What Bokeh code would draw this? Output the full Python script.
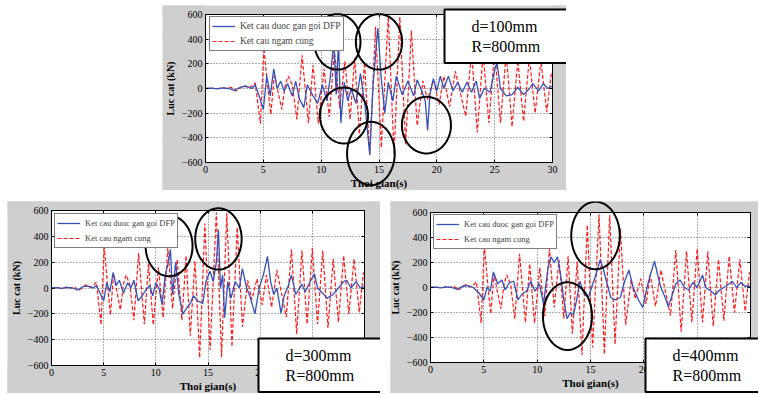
import numpy as np
from bokeh.plotting import figure
from bokeh.models import (Label, PolyAnnotation, Legend, LegendItem, Spacer,
                          FixedTicker, Range1d, LinearAxis)
from bokeh.layouts import row, column
from bokeh.embed import file_html
from bokeh.resources import INLINE

# ---------------- data ----------------
x_ticks = [0, 5, 10, 15, 20, 25, 30]
y_ticks = [-600, -400, -200, 0, 200, 400, 600]
x_min, x_max = 0, 30
y_min, y_max = -600, 600
label_dfp = "Ket cau duoc gan goi DFP"
label_fix = "Ket cau ngam cung"
x_title = "Thoi gian(s)"
y_title = "Luc cat (kN)"

# fixed-base structure (red dashed), same in all three panels
fix_t = [0, 0.5, 1.0, 1.4, 1.8, 2.2, 2.6, 3.0, 3.3, 3.7,
         4.0, 4.3, 4.75, 5.05, 5.35, 5.65, 5.95, 6.25, 6.6, 6.9,
         7.15, 7.5, 7.9, 8.35, 8.9, 9.3, 9.75, 10.25, 10.7, 11.15,
         11.6, 12.05, 12.5, 12.9, 13.3, 13.75, 14.2, 14.7, 15.2, 15.8,
         16.3, 16.8, 17.3, 17.8, 18.3, 18.8, 19.2, 19.7, 20.2, 20.6,
         21.1, 21.6, 22.5, 23.0, 23.5, 24.0, 24.5, 25.0, 25.5, 26.0,
         26.5, 27.0, 27.5, 28.0, 28.5, 29.0, 29.5, 29.9, 30.0]
fix_v = [0, 5, -5, 8, 0, 10, -20, 5, 25, 5,
         20, 45, -285, 330, 40, -210, 110, -20, -170, 30,
         100, 30, -250, 270, -280, 190, -285, 160, -230, 310,
         -160, 220, -250, 250, -370, 210, -540, 500, -480, 585,
         -535, 580, -455, 470, -300, 60, -90, 70, -130, 100,
         -150, 140, -225, 300, -355, 290, -280, 310, -280, 290,
         -310, 225, -265, 250, -200, 225, -190, 120, 100]

# DFP isolated structure, d = 100 mm
d100_t = [0, 0.5, 1.0, 1.5, 2.0, 2.5, 3.0, 3.5, 4.0, 4.3,
          4.6, 5.0, 5.3, 5.6, 5.9, 6.2, 6.5, 6.8, 7.1, 7.5,
          7.8, 8.1, 8.5, 8.8, 9.3, 9.7, 10.1, 10.5, 10.8, 11.1,
          11.3, 11.5, 11.7, 12.0, 12.3, 12.6, 13.0, 13.4, 13.8, 14.2,
          14.5, 14.9, 15.2, 15.5, 15.8, 16.2, 16.5, 17.0, 17.5, 18.0,
          18.3, 18.7, 19.0, 19.2, 19.4, 19.7, 20.0, 20.3, 20.6, 21.0,
          21.4, 21.8, 22.2, 22.6, 23.0, 23.4, 23.7, 24.1, 24.6, 25.0,
          25.2, 25.5, 26.0, 26.5, 27.0, 27.5, 28.0, 28.3, 28.8, 29.2,
          29.6, 30.0]
d100_v = [0, 3, -3, 5, 0, -15, 10, 20, 0, 30,
          -50, -170, 100, -60, 160, 0, 60, -20, 40, -60,
          60, -80, -155, 30, -60, -120, 30, -100, 100, 380,
          -50, 400, -280, 50, -100, 0, -120, 120, -150, -535,
          50, 490, 80, -200, 50, -100, 100, -50, 60, -60,
          70, -20, -100, -340, -50, 80, -20, 100, 0, 100,
          -20, 50, -30, 50, -30, 60, -80, 0, -30, 150,
          210, 0, -60, -50, 10, -50, 0, 40, -20, 40,
          0, 20]

# d = 300 mm
d300_t = [0, 0.5, 1.0, 1.5, 2.0, 2.5, 3.0, 3.5, 4.0, 4.3,
          4.6, 5.0, 5.3, 5.6, 5.9, 6.2, 6.5, 6.9, 7.3, 7.6,
          7.9, 8.3, 8.7, 9.0, 9.4, 9.7, 10.0, 10.3, 10.6, 10.9,
          11.2, 11.4, 11.6, 11.9, 12.2, 12.6, 13.0, 13.3, 13.6, 14.0,
          14.5, 14.8, 15.2, 15.5, 15.8, 16.0, 16.2, 16.4, 16.6, 16.9,
          17.2, 17.6, 18.0, 18.3, 18.7, 19.0, 19.5, 19.9, 20.3, 20.7,
          21.0, 21.3, 21.6, 22.0, 22.3, 22.7, 23.0, 23.4, 23.8, 24.0,
          24.3, 24.8, 25.2, 25.5, 26.0, 26.4, 27.0, 27.5, 28.0, 28.3,
          28.7, 29.2, 29.6, 30.0]
d300_v = [0, 3, -3, 5, 0, -15, 10, 15, 0, 20,
          -30, -100, 40, -30, 120, 20, 60, -40, 40, 0,
          60, -100, -60, -20, 20, -60, 40, 0, -130, 100,
          200, 300, -50, 200, -50, -200, -150, -120, -60, -100,
          -120, 50, 130, 50, 200, 450, 0, 100, -230, 50,
          -80, 50, 0, 150, 0, -60, -200, 0, 100, 245,
          50, -50, 0, -195, -60, 20, 100, -50, 0, 30,
          -30, 50, 110, 0, -40, -80, -50, 0, 50, 60,
          0, 50, 0, 10]

# d = 400 mm
d400_t = [0, 0.5, 1.0, 1.5, 2.0, 2.5, 3.0, 3.5, 4.0, 4.5,
          5.0, 5.3, 5.6, 5.9, 6.3, 6.7, 7.0, 7.4, 7.8, 8.2,
          8.6, 9.0, 9.4, 9.8, 10.2, 10.6, 11.0, 11.3, 11.6, 11.9,
          12.2, 12.5, 12.8, 13.1, 13.4, 13.7, 14.0, 14.4, 14.8, 15.1,
          15.5, 15.9, 16.2, 16.5, 16.9, 17.3, 17.8, 18.2, 18.6, 19.0,
          19.5, 19.9, 20.3, 20.6, 21.0, 21.3, 21.6, 22.0, 22.3, 22.7,
          23.0, 23.4, 23.8, 24.2, 24.6, 25.0, 25.5, 25.8, 26.3, 26.7,
          27.1, 27.5, 28.0, 28.3, 28.7, 29.1, 29.5, 30.0]
d400_v = [0, 3, -3, 5, 0, -15, 10, 15, 0, -40,
          -100, 0, -30, 125, 30, 60, -20, 40, 50, -100,
          -50, -30, 50, -30, 30, -130, 150, 245, 200, 245,
          100, -100, -250, -200, -220, -100, 50, -50, -80, 0,
          100, 220, 150, 50, -80, -100, -80, 50, 140, 0,
          -100, -160, 0, 100, 210, 100, 0, -80, -155, -50,
          30, 60, 0, -20, 40, 0, 100, 0, -30, -60,
          -20, 0, 30, 50, 0, 40, 10, 10]

# highlighted regions (ellipses): centre time, centre force, width (s), height (kN)
c100_t = [11.4, 15.0, 11.97, 14.3, 19.1]
c100_v = [378, 378, -219, -527, -297]
c100_w = [4.0, 4.0, 4.15, 4.12, 4.24]
c100_h = [450, 450, 454, 514, 459]

c300_t = [11.27, 16.0]
c300_v = [326, 380]
c300_w = [4.5, 4.45]
c300_h = [470, 475]

c400_t = [15.47, 12.84]
c400_v = [416, -229]
c400_w = [4.55, 4.6]
c400_h = [540, 541]

box100 = "d=100mm\nR=800mm"
box300 = "d=300mm\nR=800mm"
box400 = "d=400mm\nR=800mm"

# ---------------- styling ----------------
SERIF = "Liberation Serif"
GRAY = "#cfcfcf"
RED = "#ff1a1a"
BLUE = "#3352b8"
LEGEND_H = 33


def style_axis(ax, labels=True):
    ax.major_label_text_font = SERIF
    ax.major_label_text_font_size = "10px" if labels else "0px"
    ax.major_label_text_color = "black"
    ax.axis_label_text_font = SERIF
    ax.axis_label_text_font_style = "bold"
    ax.axis_label_text_color = "black"
    ax.major_tick_in = 3
    ax.major_tick_out = 0
    ax.minor_tick_in = 0
    ax.minor_tick_out = 0
    ax.axis_line_color = "black"
    ax.major_tick_line_color = "black"
    ax.major_label_standoff = 3


def make_panel(fig_w, fig_h, ax_left, ax_top, ax_w, ax_h,
               blue_t, blue_v, ct, cv, cw, ch,
               box_text, box_dx, box_dy, legend_font, leg_dx, leg_dy):
    # The plotting frame fills the whole figure; the axes box (ax_w x ax_h px)
    # sits inside it, so the text box may overhang the axes as in the original.
    px_s = ax_w / (x_max - x_min)
    px_kn = ax_h / (y_max - y_min)
    x_start = x_min - ax_left / px_s
    x_end = x_max + (fig_w - ax_left - ax_w) / px_s
    y_start = y_min - (fig_h - ax_top - ax_h) / px_kn
    y_end = y_max + ax_top / px_kn

    p = figure(width=fig_w, height=fig_h,
               x_range=Range1d(x_start, x_end), y_range=Range1d(y_start, y_end),
               output_backend="svg", toolbar_location=None,
               x_axis_location=None, y_axis_location=None,
               min_border_left=0, min_border_right=0,
               min_border_top=0, min_border_bottom=0)
    p.border_fill_color = GRAY
    p.background_fill_color = "white"
    p.outline_line_color = None

    # grid
    p.xgrid.ticker = FixedTicker(ticks=x_ticks)
    p.ygrid.ticker = FixedTicker(ticks=y_ticks)
    for g in (p.xgrid[0], p.ygrid[0]):
        g.grid_line_color = "#333333"
        g.grid_line_dash = "1 2"
        g.grid_line_alpha = 0.8

    # grey surround outside the axes box
    big = 1e4
    p.quad(left=[x_max, -big, -big, -big], right=[big, x_min, big, big],
           bottom=[-big, -big, -big, y_max], top=[big, big, y_min, big],
           fill_color=GRAY, line_color=None)

    # axes pinned to the box edges
    yax = LinearAxis(fixed_location=x_min, ticker=FixedTicker(ticks=y_ticks),
                     bounds=(y_min, y_max), axis_label=y_title)
    style_axis(yax)
    yax.axis_label_text_font_size = "10px"
    yax.axis_label_standoff = 3
    p.add_layout(yax, "left")

    xax = LinearAxis(fixed_location=y_min, ticker=FixedTicker(ticks=x_ticks),
                     bounds=(x_min, x_max), axis_label=x_title)
    style_axis(xax)
    xax.axis_label_text_font_size = "11px"
    xax.axis_label_standoff = 1
    p.add_layout(xax, "below")

    tax = LinearAxis(fixed_location=y_max, ticker=FixedTicker(ticks=x_ticks),
                     bounds=(x_min, x_max),
                     major_label_overrides={t: "" for t in x_ticks})
    style_axis(tax, labels=False)
    p.add_layout(tax, "above")
    rax = LinearAxis(fixed_location=x_max, ticker=FixedTicker(ticks=y_ticks),
                     bounds=(y_min, y_max),
                     major_label_overrides={v: "" for v in y_ticks})
    style_axis(rax, labels=False)
    p.add_layout(rax, "right")

    r_fix = p.line(fix_t, fix_v, line_color=RED, line_width=1.2, line_dash="4 2")
    r_dfp = p.line(blue_t, blue_v, line_color=BLUE, line_width=1.3)

    legend = Legend(items=[LegendItem(label=label_dfp, renderers=[r_dfp]),
                           LegendItem(label=label_fix, renderers=[r_fix])],
                    location=(ax_left + leg_dx, fig_h - ax_top - leg_dy - LEGEND_H),
                    margin=0, padding=2, spacing=1,
                    label_text_font=SERIF, label_text_font_size=legend_font,
                    label_standoff=5, glyph_width=23, glyph_height=14,
                    label_height=14,
                    border_line_color="black", border_line_width=1,
                    background_fill_color="white", background_fill_alpha=1)
    p.add_layout(legend)

    theta = np.linspace(0, 2 * np.pi, 91)
    for t0, v0, w, h in zip(ct, cv, cw, ch):
        xs = list(t0 + 0.5 * w * np.cos(theta))
        ys = list(v0 + 0.5 * h * np.sin(theta))
        p.add_layout(PolyAnnotation(xs=xs, ys=ys, xs_units="data", ys_units="data",
                                    fill_alpha=0, line_color="black",
                                    line_alpha=1, line_width=2))

    p.add_layout(Label(x=x_min + box_dx / px_s, y=y_max - box_dy / px_kn,
                       x_units="data", y_units="data",
                       text=box_text, text_font=SERIF, text_font_size="16px",
                       text_color="black", text_align="left", text_baseline="top",
                       padding=(27, 8), border_line_color="black",
                       border_line_width=2, border_line_alpha=1,
                       background_fill_color="white",
                       background_fill_alpha=1))
    return p


p1 = make_panel(404, 185, 43, 9, 347, 148, d100_t, d100_v,
                c100_t, c100_v, c100_w, c100_h, box100, 239, -5, "9.5px", 4, 4)
p2 = make_panel(373, 192, 44, 9, 313, 155, d300_t, d300_v,
                c300_t, c300_v, c300_w, c300_h, box300, 207, 128, "8.5px", 3, 5)
p3 = make_panel(368, 192, 40, 11, 320, 150, d400_t, d400_v,
                c400_t, c400_v, c400_w, c400_h, box400, 215, 126, "8.5px", 3, 4)

layout = column(Spacer(width=10, height=5),
                row(Spacer(width=162, height=185), p1),
                Spacer(width=10, height=11),
                row(Spacer(width=7, height=192), p2,
                    Spacer(width=10, height=192), p3))

open("out.html", "w").write(file_html(layout, INLINE))
